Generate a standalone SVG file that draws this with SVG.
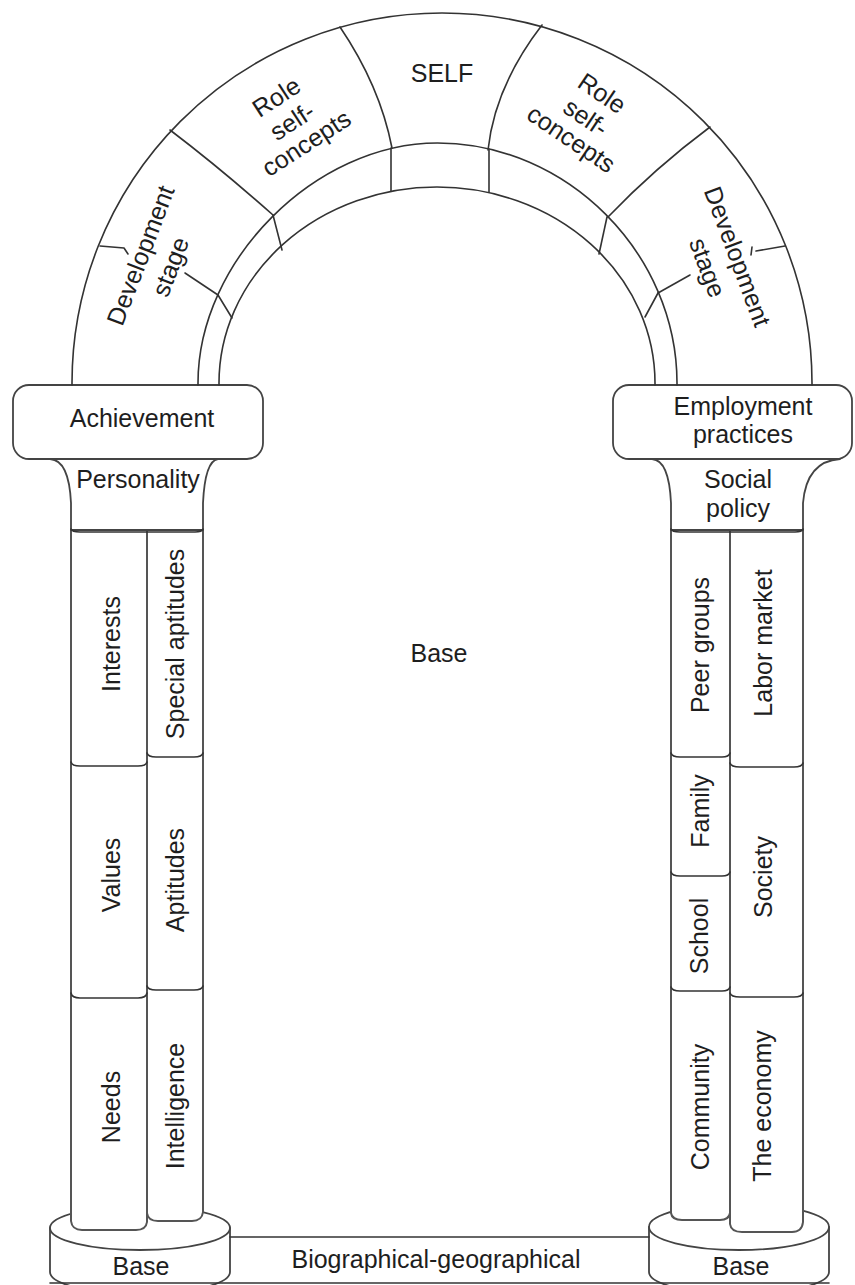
<svg xmlns="http://www.w3.org/2000/svg" width="855" height="1285" viewBox="0 0 855 1285">
<style>
.ln{fill:none;stroke:#333;stroke-width:1.6;stroke-linecap:round;stroke-linejoin:round}
.sh{fill:#fff;stroke:#444;stroke-width:1.8;stroke-linejoin:round}
.col{fill:#fff;stroke:#555;stroke-width:2}
.t{font-family:"Liberation Sans",Arial,sans-serif;font-size:25px;fill:#1e1e1e;text-anchor:middle}
</style>
<rect width="855" height="1285" fill="#fff"/>

<!-- bases -->
<g id="base-left">
<path class="sh" d="M50,1228 L50,1272 A90,22 0 0 0 230,1272 L230,1228 Z"/>
<ellipse class="sh" cx="140" cy="1228" rx="90" ry="22"/>
<text class="t" x="141" y="1275">Base</text>
</g>
<g id="base-right">
<path class="sh" d="M649,1227 L649,1272 A90,22 0 0 0 829,1272 L829,1227 Z"/>
<ellipse class="sh" cx="739" cy="1227" rx="90" ry="23"/>
<text class="t" x="741" y="1275">Base</text>
</g>
<g id="biographical">
<line class="ln" x1="230" y1="1237" x2="649" y2="1237"/>
<line class="ln" x1="50" y1="1283" x2="829" y2="1283"/>
<text class="t" x="436" y="1268">Biographical-geographical</text>
</g>

<!-- left column -->
<g id="left-column">
<path class="col" d="M71,530 L71,1221 Q72,1230 82,1230 L136,1230 Q146,1230 147,1222 L147,530 Z"/>
<path class="col" d="M147,530 L147,1213 Q148,1221 158,1221 L192,1221 Q202,1221 203,1212 L203,530 Z"/>
</g>
<g id="interests"><path class="ln" d="M71,762 Q72,766 80,766 L138,766 Q146,766 147,762"/>
<text class="t" transform="translate(120,644) rotate(-90)">Interests</text></g>
<g id="values"><path class="ln" d="M71,993 Q72,998 80,998 L138,998 Q146,998 147,993"/>
<text class="t" transform="translate(120,875) rotate(-90)">Values</text></g>
<g id="needs"><text class="t" transform="translate(120,1107) rotate(-90)">Needs</text></g>
<g id="special-aptitudes"><path class="ln" d="M147,753 Q148,757 156,757 L194,757 Q202,757 203,753"/>
<text class="t" transform="translate(184,644) rotate(-90)">Special aptitudes</text></g>
<g id="aptitudes"><path class="ln" d="M147,986 Q148,990 156,990 L194,990 Q202,990 203,986"/>
<text class="t" transform="translate(184,880) rotate(-90)">Aptitudes</text></g>
<g id="intelligence"><text class="t" transform="translate(184,1106) rotate(-90)">Intelligence</text></g>

<!-- right column -->
<g id="right-column">
<path class="col" d="M671,530 L671,1213 Q672,1220 682,1220 L720,1220 Q729,1220 730,1213 L730,530 Z"/>
<path class="col" d="M730,530 L730,1224 Q731,1232 742,1232 L792,1232 Q802,1232 803,1222 L803,530 Z"/>
</g>
<g id="peer-groups"><path class="ln" d="M671,753 Q672,757 680,757 L722,757 Q729,757 730,753"/>
<text class="t" transform="translate(709,645) rotate(-90)">Peer groups</text></g>
<g id="family"><path class="ln" d="M671,872 Q672,876 680,876 L722,876 Q729,876 730,872"/>
<text class="t" transform="translate(709,811) rotate(-90)">Family</text></g>
<g id="school"><path class="ln" d="M671,987 Q672,991 680,991 L722,991 Q729,991 730,987"/>
<text class="t" transform="translate(708,936) rotate(-90)">School</text></g>
<g id="community"><text class="t" transform="translate(709,1107) rotate(-90)">Community</text></g>
<g id="labor-market"><path class="ln" d="M730,763 Q731,767 740,767 L794,767 Q802,767 803,763"/>
<text class="t" transform="translate(772,643) rotate(-90)">Labor market</text></g>
<g id="society"><path class="ln" d="M730,993 Q731,997 740,997 L794,997 Q802,997 803,993"/>
<text class="t" transform="translate(772,877) rotate(-90)">Society</text></g>
<g id="the-economy"><text class="t" transform="translate(771,1106) rotate(-90)">The economy</text></g>

<!-- capitals -->
<g id="personality">
<path class="sh" d="M50,459 Q69,460 71,503 L71,530 L203,530 L203,503 Q205,461 218,459 Z"/>
<path class="ln" d="M71,529 Q72,532 80,532 L195,532 Q202,532 203,529"/>
<text class="t" x="138" y="488">Personality</text>
</g>
<g id="achievement">
<rect class="sh" x="13" y="385" width="250" height="74" rx="16"/>
<text class="t" x="142" y="427">Achievement</text>
</g>
<g id="social-policy">
<path class="sh" d="M652,459 Q669,460 671,503 L671,530 L803,530 L803,503 C806,468 825,460 840,459 Z"/>
<path class="ln" d="M671,529 Q672,532 680,532 L795,532 Q802,532 803,529"/>
<text class="t" x="738" y="488">Social</text>
<text class="t" x="738" y="517">policy</text>
</g>
<g id="employment-practices">
<rect class="sh" x="613" y="385" width="239" height="74" rx="16"/>
<text class="t" x="743" y="415">Employment</text>
<text class="t" x="743" y="443">practices</text>
</g>

<!-- arch -->
<g id="arch">
<path class="ln" d="M72,385 L72,383 A370,370 0 0 1 812,383 L812,385"/>
<path class="ln" d="M198,385 L198,383 C198,260.6 315.4,143 437.5,143 C566.8,143 677,253.4 677,383 L677,385"/>
<path class="ln" d="M219,385 L219,383 A218,196 0 0 1 655,383 L655,385"/>
</g>
<g id="development-stage-left">
<path class="ln" d="M170,130 Q220,168 273,215"/>
<path class="ln" d="M218,295 L232,318"/>
<g transform="translate(158,262) rotate(-69)">
<text class="t" x="0" y="-10">Development</text>
<text class="t" x="0" y="22">stage</text>
</g>
</g>
<g id="role-self-concepts-left">
<path class="ln" d="M340,27 Q380,86 392,148"/>
<path class="ln" d="M273,215 L282,250"/>
<g transform="translate(292,121) rotate(-33)">
<text class="t" x="0" y="-20">Role</text>
<text class="t" x="0" y="9">self-</text>
<text class="t" x="0" y="35">concepts</text>
</g>
</g>
<g id="self">
<path class="ln" d="M391,148 L391,191"/>
<path class="ln" d="M489,149 L489,192"/>
<text class="t" x="442" y="82">SELF</text>
</g>
<g id="role-self-concepts-right">
<path class="ln" d="M542,25 Q495,86 488,150"/>
<path class="ln" d="M607,217 L599,254"/>
<g transform="translate(586,117) rotate(34)">
<text class="t" x="0" y="-20">Role</text>
<text class="t" x="0" y="9">self-</text>
<text class="t" x="0" y="35">concepts</text>
</g>
</g>
<g id="development-stage-right">
<path class="ln" d="M710,127 Q655,168 608,217"/>
<path class="ln" d="M658,293 L645,317"/>
<g transform="translate(720,263) rotate(69.5)">
<text class="t" x="0" y="-10">Development</text>
<text class="t" x="0" y="22">stage</text>
</g>
</g>

<g id="center-base"><text class="t" x="439" y="662">Base</text></g>

<!-- connectors (leader lines) -->
<g id="connectors">
<path class="ln" d="M100,246 L124,248 L128,254"/>
<path class="ln" d="M185,273 L218,295"/>
<path class="ln" d="M785,246 L756,251"/>
<path class="ln" d="M752,247 L751,255"/>
<path class="ln" d="M690,275 L658,293"/>
</g>
</svg>
